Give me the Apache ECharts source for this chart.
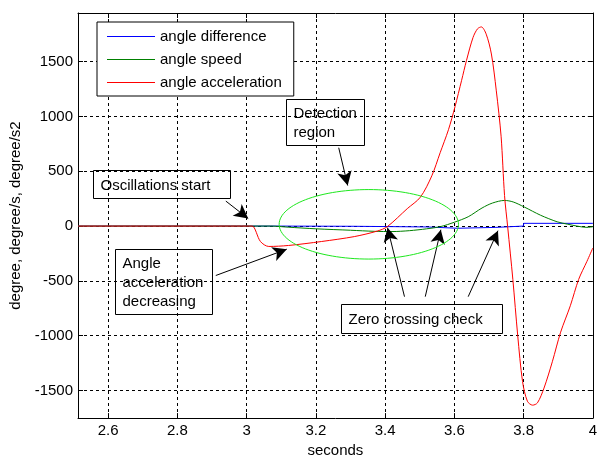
<!DOCTYPE html>
<html>
<head>
<meta charset="utf-8">
<script src="https://cdn.jsdelivr.net/npm/echarts@6/dist/echarts.min.js"></script>
<style>
html,body{margin:0;padding:0;background:#fff;}
#main{width:600px;height:463px;}
</style>
</head>
<body>
<div id="main"></div>
<script>
// ---- data ----
const xTicks = [2.6, 2.8, 3, 3.2, 3.4, 3.6, 3.8, 4];
const yTicks = [-1500, -1000, -500, 0, 500, 1000, 1500];
const xRange = [2.513, 4];
const yRange = [-1752, 1944];

const seriesNames = ['angle difference', 'angle speed', 'angle acceleration'];

const diffT = [2.513, 3.07, 3.31, 3.52, 3.61, 3.72, 3.80, 4.0];
const diffV = [0, -2, -8, -20, -12, 0, 25, 25];

const speedT = [2.513, 3.0, 3.07, 3.12, 3.2, 3.3, 3.37, 3.42, 3.47, 3.52, 3.56, 3.6, 3.64, 3.68, 3.71, 3.745, 3.77, 3.802, 3.849, 3.897, 3.926, 3.954, 3.983, 4.0];
const speedV = [0, 0, 0, -10, -25, -38, -48, -50, -42, -25, -5, 35, 85, 165, 210, 234, 220, 174, 99, 39, 18, 0, -12, -6];

const accT = [2.513, 3.0, 3.016, 3.04, 3.064, 3.121, 3.216, 3.311, 3.378, 3.406, 3.464, 3.502, 3.535, 3.559, 3.583, 3.602, 3.621, 3.635, 3.654, 3.667, 3.678, 3.692, 3.707, 3.721, 3.735, 3.745, 3.754, 3.769, 3.783, 3.797, 3.811, 3.826, 3.84, 3.859, 3.883, 3.907, 3.935, 3.959, 3.983, 4.0];
const accV = [0, 0, 0, -141, -186, -177, -141, -96, -45, -6, 159, 264, 459, 669, 879, 1090, 1330, 1510, 1721, 1800, 1817, 1751, 1570, 1240, 820, 279, -6, -487, -997, -1418, -1598, -1634, -1613, -1478, -1238, -968, -727, -487, -322, -200];

// annotations in data coordinates
const textBoxes = [
  {lines: ['Oscillations start'], x1: 2.557, x2: 2.952, y1: 508, y2: 249},
  {lines: ['Detection', 'region'], x1: 3.115, x2: 3.341, y1: 1157, y2: 733},
  {lines: ['Angle', 'acceleration', 'decreasing'], x1: 2.621, x2: 2.901, y1: -205, y2: -800},
  {lines: ['Zero crossing check'], x1: 3.272, x2: 3.738, y1: -710, y2: -971}
];
const arrows = [
  [[2.94, 228], [3.0046, 69]],
  [[3.266, 715], [3.292, 370]],
  [[2.911, -451], [3.116, -211]],
  [[3.456, -644], [3.407, -15]],
  [[3.516, -644], [3.561, -33]],
  [[3.64, -644], [3.726, -42]]
];
const ellipse = {cx: 3.353, cy: 16, rx: 0.259, ry: 317};

// ---- chart ----
const FONT = '"Liberation Sans", Arial, sans-serif';
const pairs = (t, v) => t.map((x, i) => [x, v[i]]);
const chart = echarts.init(document.getElementById('main'), null, {renderer: 'canvas'});

const gridLine = {show: true, lineStyle: {color: '#000', type: [3, 3], width: 1}};
const axisLine = {show: true, onZero: false, lineStyle: {color: '#000', width: 1}};
const LINE_ICON = 'path://M0,0L0.01,0L0.01,0.01L0,0.01ZM0,6.5L48,6.5L48,7.5L0,7.5ZM47.99,13.99L48,13.99L48,14L47.99,14Z';

const option = {
  animation: false,
  backgroundColor: '#fff',
  grid: {left: 78, top: 13, right: 1, bottom: 40, containLabel: false},
  legend: {
    orient: 'vertical', left: 97, top: 22,
    data: seriesNames.map(n => ({name: n, icon: LINE_ICON})),
    itemWidth: 48, itemHeight: 14, itemGap: 8,
    padding: [7, 12, 6, 10],
    borderColor: '#000', borderWidth: 1, backgroundColor: '#fff', borderRadius: 0,
    textStyle: {fontFamily: FONT, fontSize: 15, color: '#000'}
  },
  xAxis: [
    {type: 'value', min: xRange[0], max: xRange[1], position: 'bottom',
     name: 'seconds', nameLocation: 'middle', nameGap: 22,
     nameTextStyle: {fontFamily: FONT, fontSize: 15, color: '#000'},
     axisLine: axisLine,
     axisTick: {show: true, inside: true, length: 5, customValues: xTicks, lineStyle: {color: '#000'}},
     axisLabel: {show: true, customValues: xTicks, margin: 5, alignMaxLabel: 'center',
                 formatter: v => String(v), fontFamily: FONT, fontSize: 15, color: '#000'},
     splitLine: gridLine},
    {type: 'value', min: xRange[0], max: xRange[1], position: 'top',
     axisLine: axisLine,
     axisTick: {show: true, inside: true, length: 5, customValues: xTicks, lineStyle: {color: '#000'}},
     axisLabel: {show: false}, splitLine: {show: false}}
  ],
  yAxis: [
    {type: 'value', min: yRange[0], max: yRange[1], position: 'left',
     name: 'degree, degree/s, degree/s2', nameLocation: 'middle', nameGap: 54, nameRotate: 90,
     nameTextStyle: {fontFamily: FONT, fontSize: 15, color: '#000'},
     axisLine: axisLine,
     axisTick: {show: true, inside: true, length: 5, customValues: yTicks, lineStyle: {color: '#000'}},
     axisLabel: {show: true, customValues: yTicks, margin: 5, formatter: v => String(v),
                 fontFamily: FONT, fontSize: 15, color: '#000'},
     splitLine: gridLine},
    {type: 'value', min: yRange[0], max: yRange[1], position: 'right',
     axisLine: axisLine,
     axisTick: {show: true, inside: true, length: 5, customValues: yTicks, lineStyle: {color: '#000'}},
     axisLabel: {show: false}, splitLine: {show: false}}
  ],
  series: [
    {name: seriesNames[0], type: 'line', step: 'end', data: pairs(diffT, diffV),
     symbol: 'none', color: '#0000ff', lineStyle: {color: '#0000ff', width: 1}, z: 2},
    {name: seriesNames[1], type: 'line', smooth: 0.3, data: pairs(speedT, speedV),
     symbol: 'none', color: '#008000', lineStyle: {color: '#008000', width: 1}, z: 3},
    {name: seriesNames[2], type: 'line', smooth: 0.3, data: pairs(accT, accV),
     symbol: 'none', color: '#ff0000', lineStyle: {color: '#ff0000', width: 1}, z: 4,
     markLine: {
       silent: true, animation: false,
       symbol: ['none', 'arrow'], symbolSize: [11, 14],
       label: {show: false},
       lineStyle: {color: '#000', type: 'solid', width: 1},
       itemStyle: {color: '#000'},
       emphasis: {disabled: true},
       data: arrows.map(a => [{coord: a[0]}, {coord: a[1]}])
     }}
  ]
};
chart.setOption(option);

// annotation graphics placed through the axes' scales
const toPx = p => chart.convertToPixel({xAxisIndex: 0, yAxisIndex: 0}, p);
const graphics = [];
textBoxes.forEach(b => {
  const p1 = toPx([b.x1, b.y1]);
  const p2 = toPx([b.x2, b.y2]);
  const x = Math.round(p1[0]) + 0.5, y = Math.round(p1[1]) + 0.5;
  const w = Math.round(p2[0] - p1[0]), h = Math.round(p2[1] - p1[1]);
  graphics.push({type: 'rect', z: 100, shape: {x: x, y: y, width: w, height: h},
    style: {fill: null, stroke: '#000', lineWidth: 1}});
  graphics.push({type: 'text', z: 101, style: {
    text: b.lines.join('\n'), x: x + 7, y: y + h / 2 + 1,
    fontFamily: FONT, fontSize: 15, fill: '#000', lineHeight: 19,
    align: 'left', verticalAlign: 'middle'}});
});
const c = toPx([ellipse.cx, ellipse.cy]);
const e = toPx([ellipse.cx + ellipse.rx, ellipse.cy + ellipse.ry]);
const rxp = Math.abs(e[0] - c[0]), ryp = Math.abs(e[1] - c[1]);
const pts = [];
for (let i = 0; i < 120; i++) {
  const a = i / 120 * Math.PI * 2;
  pts.push([c[0] + rxp * Math.cos(a), c[1] + ryp * Math.sin(a)]);
}
graphics.push({type: 'polygon', z: 99, shape: {points: pts},
  style: {fill: null, stroke: '#1ee81e', lineWidth: 1}});
chart.setOption({graphic: graphics});
</script>
</body>
</html>
